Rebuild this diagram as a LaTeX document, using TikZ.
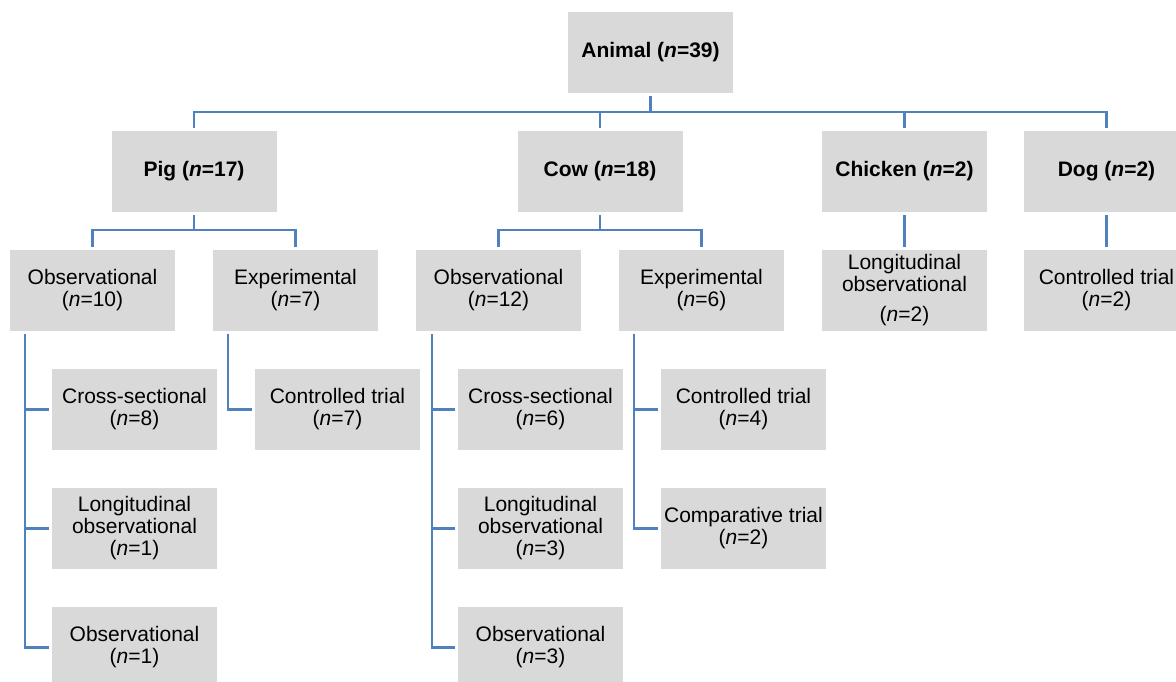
\documentclass[tikz,border=0pt]{standalone}
\usepackage{fontspec}
\setmainfont{Liberation Sans}
\definecolor{boxfill}{RGB}{217,217,217}
\definecolor{linkblue}{RGB}{79,129,189}
\begin{document}
\begin{tikzpicture}[x=1pt,y=-1pt,
  box/.style={fill=boxfill, draw=none, minimum width=165pt, minimum height=81pt,
    inner sep=0pt, align=center, font=\fontsize{21}{22}\selectfont},
  topbox/.style={box, font=\fontsize{21}{22}\selectfont\bfseries},
  conn/.style={draw=linkblue, line width=2.6pt}]
\useasboundingbox (0,0) rectangle (1176,682);
\clip (0,0) rectangle (1176,682);
% level 0
\node[topbox] (animal) at (650.5,52.5) {Animal (\textit{n}=39)};
% level 1
\node[topbox] (pig) at (194,171.5) {Pig (\textit{n}=17)};
\node[topbox] (cow) at (600,171.5) {Cow (\textit{n}=18)};
\node[topbox] (chicken) at (904.5,171.5) {Chicken (\textit{n}=2)};
\node[topbox] (dog) at (1106.5,171.5) {Dog (\textit{n}=2)};
% level 2
\node[box] (pobs) at (92.5,290.5) {Observational\\(\textit{n}=10)};
\node[box] (pexp) at (295.5,290.5) {Experimental\\(\textit{n}=7)};
\node[box] (cobs) at (498.5,290.5) {Observational\\(\textit{n}=12)};
\node[box] (cexp) at (701.5,290.5) {Experimental\\(\textit{n}=6)};
\node[box] (chlong) at (904.5,290.5) {Longitudinal\\observational\\[8pt](\textit{n}=2)};
\node[box] (dogct) at (1106.5,290.5) {Controlled trial\\(\textit{n}=2)};
% level 3 pig
\node[box] (pcs) at (134.5,409.5) {Cross-sectional\\(\textit{n}=8)};
\node[box] (plong) at (134.5,528.5) {Longitudinal\\observational\\(\textit{n}=1)};
\node[box] (pobs3) at (134.5,647.5) {Observational\\(\textit{n}=1)};
\node[box] (pct) at (337.5,409.5) {Controlled trial\\(\textit{n}=7)};
% level 3 cow
\node[box] (ccs) at (540.5,409.5) {Cross-sectional\\(\textit{n}=6)};
\node[box] (clong) at (540.5,528.5) {Longitudinal\\observational\\(\textit{n}=3)};
\node[box] (cobs3) at (540.5,647.5) {Observational\\(\textit{n}=3)};
\node[box] (cct) at (743.5,409.5) {Controlled trial\\(\textit{n}=4)};
\node[box] (ccomp) at (743.5,528.5) {Comparative trial\\(\textit{n}=2)};
% bus coordinates
\coordinate (b1) at (0,112);
\coordinate (b2) at (0,230);
\coordinate (sp1) at (25,0);
\coordinate (sp2) at (228,0);
\coordinate (sp3) at (432,0);
\coordinate (sp4) at (634,0);
% level 0 -> 1
\draw[conn] ([yshift=-3pt]animal.south) -- (animal.south |- b1);
\draw[conn] ([yshift=3pt]pig.north) -- (pig.north |- b1) -- (dog.north |- b1) -- ([yshift=3pt]dog.north);
\draw[conn] ([yshift=3pt]cow.north) -- (cow.north |- b1);
\draw[conn] ([yshift=3pt]chicken.north) -- (chicken.north |- b1);
% level 1 -> 2
\draw[conn] ([yshift=-3pt]pig.south) -- (pig.south |- b2);
\draw[conn] ([yshift=3pt]pobs.north) -- (pobs.north |- b2) -- (pexp.north |- b2) -- ([yshift=3pt]pexp.north);
\draw[conn] ([yshift=-3pt]cow.south) -- (cow.south |- b2);
\draw[conn] ([yshift=3pt]cobs.north) -- (cobs.north |- b2) -- (cexp.north |- b2) -- ([yshift=3pt]cexp.north);
\draw[conn] ([yshift=-3pt]chicken.south) -- ([yshift=3pt]chlong.north);
\draw[conn] ([yshift=-3pt]dog.south) -- ([yshift=3pt]dogct.north);
% level 2 -> 3 pig
\draw[conn] ([yshift=-3pt]pobs.south -| sp1) -- (sp1 |- pobs3.west) -- ([xshift=-3pt]pobs3.west);
\draw[conn] (sp1 |- pcs.west) -- ([xshift=-3pt]pcs.west);
\draw[conn] (sp1 |- plong.west) -- ([xshift=-3pt]plong.west);
\draw[conn] ([yshift=-3pt]pexp.south -| sp2) -- (sp2 |- pct.west) -- ([xshift=-3pt]pct.west);
% level 2 -> 3 cow
\draw[conn] ([yshift=-3pt]cobs.south -| sp3) -- (sp3 |- cobs3.west) -- ([xshift=-3pt]cobs3.west);
\draw[conn] (sp3 |- ccs.west) -- ([xshift=-3pt]ccs.west);
\draw[conn] (sp3 |- clong.west) -- ([xshift=-3pt]clong.west);
\draw[conn] ([yshift=-3pt]cexp.south -| sp4) -- (sp4 |- ccomp.west) -- ([xshift=-3pt]ccomp.west);
\draw[conn] (sp4 |- cct.west) -- ([xshift=-3pt]cct.west);
\end{tikzpicture}
\end{document}
